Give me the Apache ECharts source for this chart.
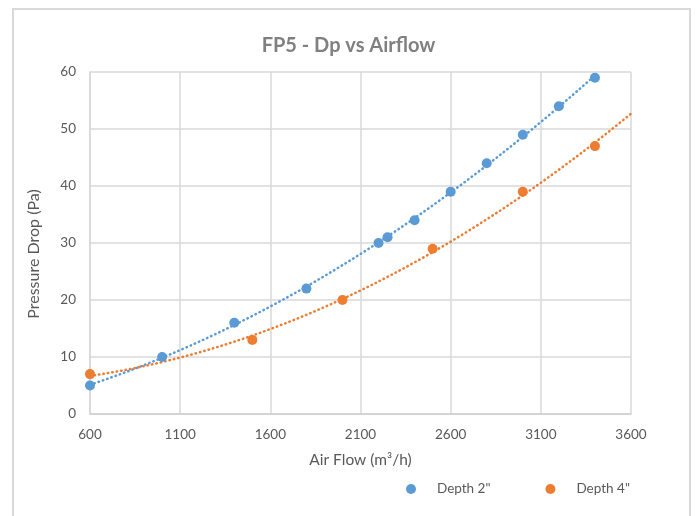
<!DOCTYPE html>
<html>
<head>
<meta charset="utf-8">
<script src="https://cdn.jsdelivr.net/npm/echarts@6/dist/echarts.min.js"></script>
<style>
  html, body { margin: 0; padding: 0; background: #fff; }
  #chart { width: 697px; height: 516px; }
</style>
</head>
<body>
<div id="chart"></div>
<script>
// measured points
const depth2Flow = [600, 1000, 1400, 1800, 2200, 2250, 2400, 2600, 2800, 3000, 3200, 3400];
const depth2Dp = [5, 10, 16, 22, 30, 31, 34, 39, 44, 49, 54, 59];
const depth4Flow = [600, 1500, 2000, 2500, 3000, 3400];
const depth4Dp = [7, 13, 20, 29, 39, 47];

const xTicks = [600, 1100, 1600, 2100, 2600, 3100, 3600];
const yTicks = [0, 10, 20, 30, 40, 50, 60];

const BLUE = "#5B9BD5";
const ORANGE = "#ED7D31";
const FONT = "Lato";

// quadratic least squares fit, like the Excel trendline
function polyFit(xs, ys) {
  let s = [0, 0, 0, 0, 0], t = [0, 0, 0];
  for (let i = 0; i < xs.length; i++) {
    const x = xs[i] / 1000, y = ys[i];
    for (let k = 0; k < 5; k++) s[k] += Math.pow(x, k);
    for (let k = 0; k < 3; k++) t[k] += y * Math.pow(x, k);
  }
  const m = [
    [s[0], s[1], s[2], t[0]],
    [s[1], s[2], s[3], t[1]],
    [s[2], s[3], s[4], t[2]],
  ];
  for (let c = 0; c < 3; c++) {
    for (let r = c + 1; r < 3; r++) {
      const f = m[r][c] / m[c][c];
      for (let k = c; k < 4; k++) m[r][k] -= f * m[c][k];
    }
  }
  const a = [0, 0, 0];
  for (let r = 2; r >= 0; r--) {
    let v = m[r][3];
    for (let k = r + 1; k < 3; k++) v -= m[r][k] * a[k];
    a[r] = v / m[r][r];
  }
  return (x) => a[0] + a[1] * (x / 1000) + a[2] * Math.pow(x / 1000, 2);
}

function trendPoints(xs, ys, from, to) {
  const f = polyFit(xs, ys);
  const pts = [];
  for (let x = from; x <= to; x += 25) pts.push([x, f(x)]);
  return pts;
}

const pairs = (xs, ys) => xs.map((x, i) => [x, ys[i]]);

const chart = echarts.init(document.getElementById("chart"));

const trendStyle = (color) => ({
  color: color,
  width: 2.5,
  type: [0.5, 4],
  cap: "round",
});

const option = {
  animation: false,
  backgroundColor: "#fff",
  title: {
    text: "FP5 - Dp vs Airflow",
    left: "center",
    top: 31,
    textStyle: { fontFamily: FONT, fontSize: 20, fontWeight: "bold", color: "#808080" },
  },
  graphic: [
    {
      type: "rect",
      shape: { x: 13, y: 9, width: 677, height: 530 },
      style: { fill: null, stroke: "#d9d9d9", lineWidth: 2 },
      z: -10,
    },
  ],
  legend: {
    bottom: 15,
    left: 401,
    icon: "circle",
    itemWidth: 10,
    itemHeight: 10,
    itemGap: 55,
    data: ['Depth 2"', 'Depth 4"'],
    textStyle: { fontFamily: FONT, fontSize: 13.5, color: "#595959", padding: [0, 0, 0, 16] },
  },
  grid: { left: 90, right: 66, top: 72, bottom: 102 },
  xAxis: {
    type: "value",
    min: xTicks[0],
    max: xTicks[xTicks.length - 1],
    interval: 500,
    name: "Air Flow (m³/h)",
    nameLocation: "middle",
    nameGap: 38,
    nameTextStyle: { fontFamily: FONT, fontSize: 15.5, color: "#595959" },
    axisLine: { lineStyle: { color: "#d0d0d0", width: 1.5 } },
    axisTick: { show: false },
    axisLabel: { fontFamily: FONT, fontSize: 13.5, color: "#595959", margin: 14, formatter: (v) => String(v) },
    splitLine: { lineStyle: { color: "#d9d9d9", width: 1.5 } },
  },
  yAxis: {
    type: "value",
    min: yTicks[0],
    max: yTicks[yTicks.length - 1],
    interval: 10,
    name: "Pressure Drop (Pa)",
    nameLocation: "middle",
    nameGap: 48,
    nameTextStyle: { fontFamily: FONT, fontSize: 16, color: "#595959", padding: [0, 22, 0, 0] },
    axisLine: { show: true, lineStyle: { color: "#d9d9d9", width: 1.5 } },
    axisTick: { show: false },
    axisLabel: { fontFamily: FONT, fontSize: 13.5, color: "#595959", margin: 14 },
    splitLine: { lineStyle: { color: "#d9d9d9", width: 1.5 } },
  },
  series: [
    {
      name: 'Depth 2" trend',
      type: "line",
      data: trendPoints(depth2Flow, depth2Dp, 600, 3400),
      showSymbol: false,
      lineStyle: trendStyle(BLUE),
      silent: true,
      z: 1,
    },
    {
      name: 'Depth 4" trend',
      type: "line",
      data: trendPoints(depth4Flow, depth4Dp, 600, 3600),
      showSymbol: false,
      lineStyle: trendStyle(ORANGE),
      silent: true,
      z: 1,
    },
    {
      name: 'Depth 2"',
      type: "scatter",
      data: pairs(depth2Flow, depth2Dp),
      symbolSize: 10,
      itemStyle: { color: BLUE, opacity: 1 },
      z: 3,
    },
    {
      name: 'Depth 4"',
      type: "scatter",
      data: pairs(depth4Flow, depth4Dp),
      symbolSize: 10,
      itemStyle: { color: ORANGE, opacity: 1 },
      z: 3,
    },
  ],
};

chart.setOption(option);
</script>
</body>
</html>
